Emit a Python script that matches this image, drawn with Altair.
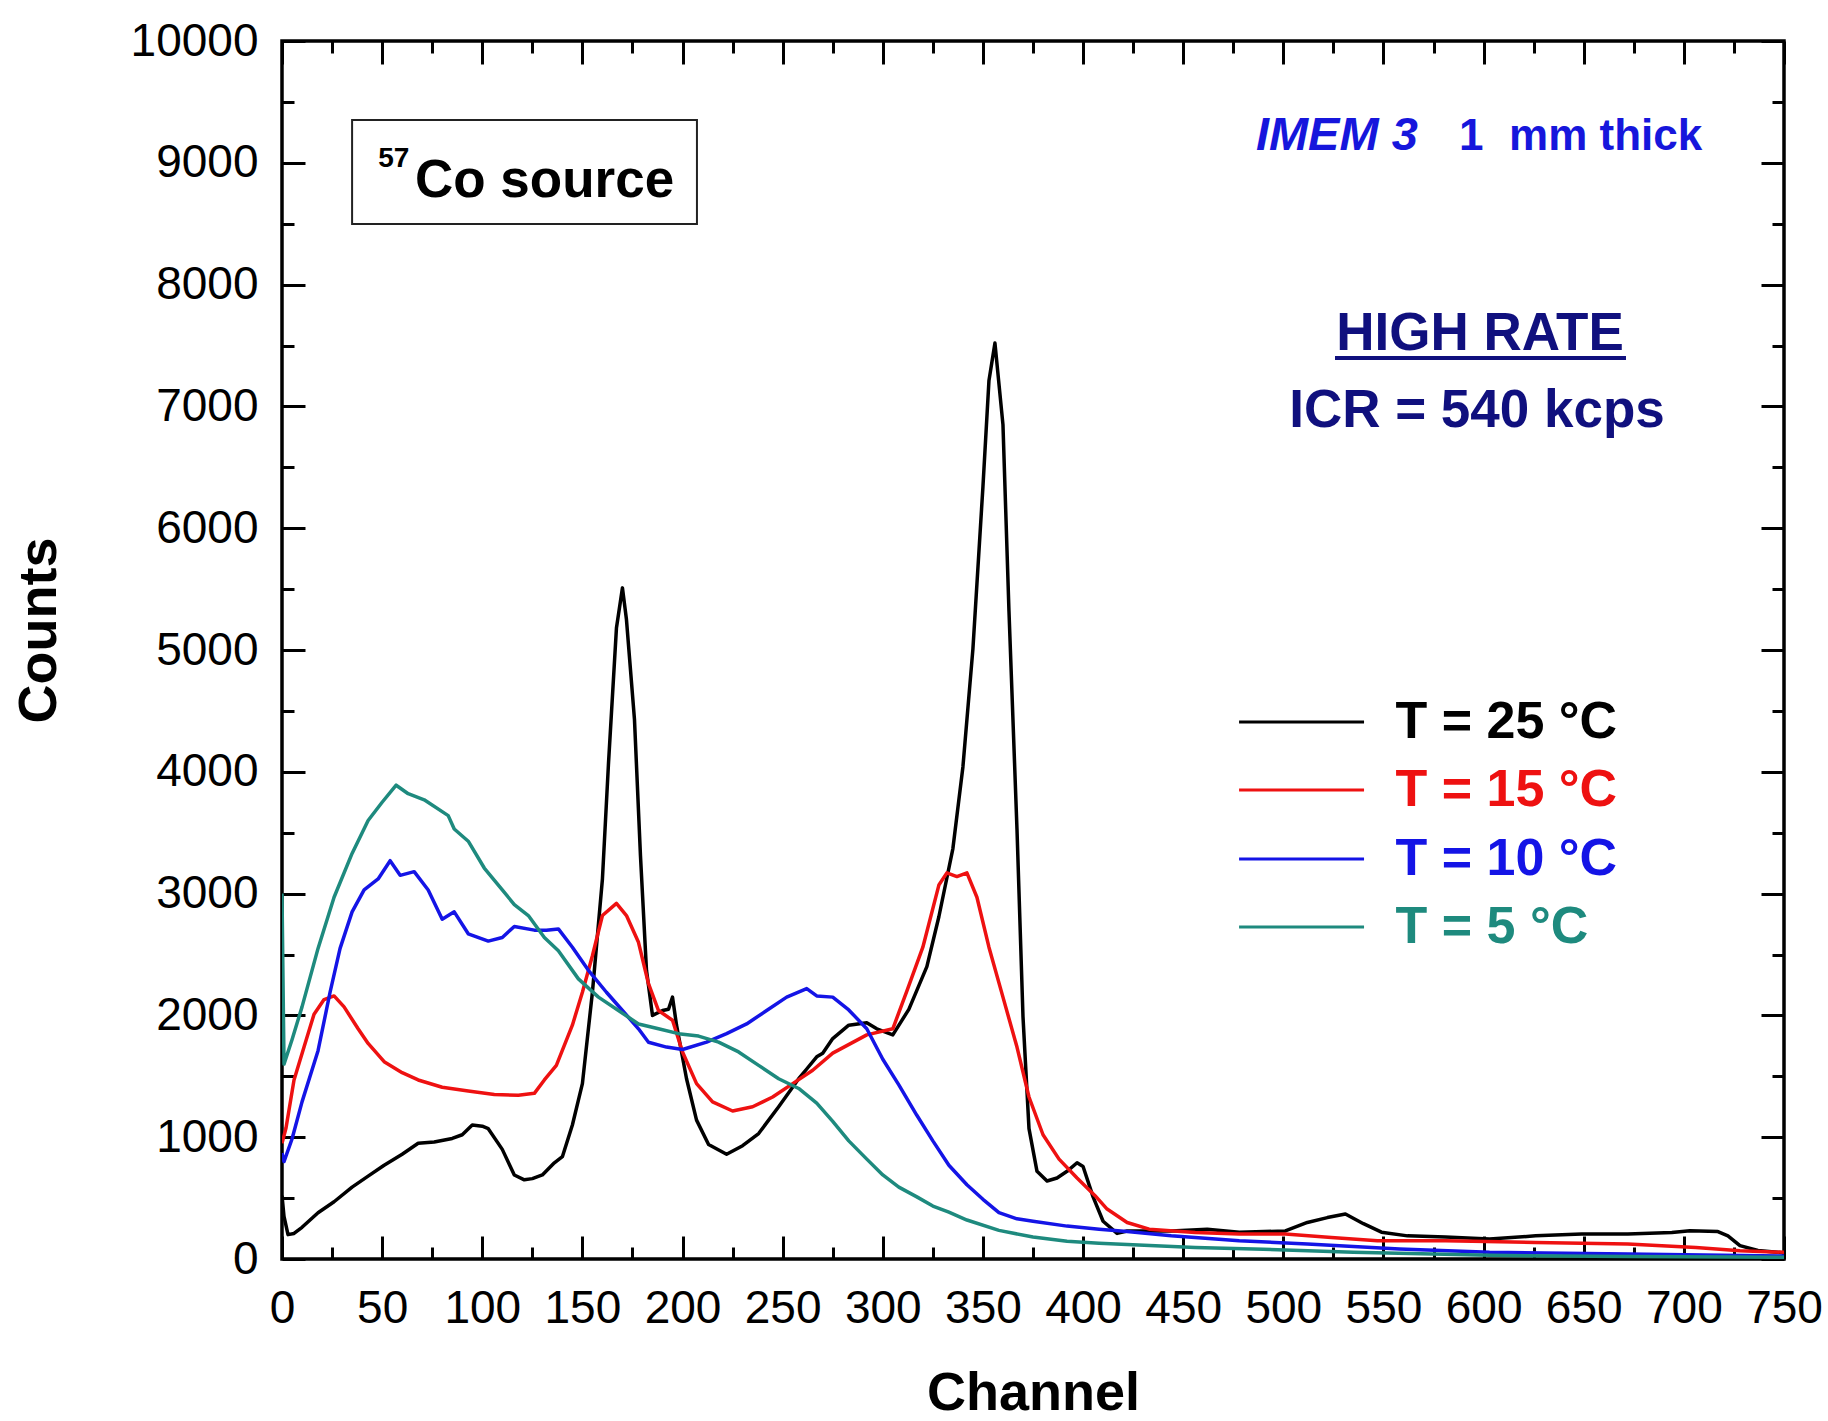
import altair as alt
import pandas as pd

FONT = "Liberation Sans"
W, H = 1502, 1218
XDOM = [0, 750]
YDOM = [0, 10000]

# ---------------- data ----------------
series_names = ["T = 25 °C", "T = 15 °C", "T = 10 °C", "T = 5 °C"]
series_colors = ["#000000", "#ee1111", "#1414e6", "#1e8a7e"]

t25_ch = [0, 1, 3, 6, 10, 18, 26, 35, 43, 51, 60, 68, 76, 85, 90, 95, 100, 103, 110, 116,
          121, 125, 130, 136, 140, 145, 150, 155, 160, 163, 167, 170, 172, 176, 179, 182, 185, 190, 193, 195,
          197, 202, 207, 213, 222, 230, 238, 248, 258, 262, 267, 270, 275, 283, 292, 297, 305, 313, 322, 328,
          335, 340, 345, 350, 353, 356, 360, 363, 367, 370, 373, 377, 382, 387, 392, 397, 400, 405, 410, 417,
          422, 444, 462, 478, 501, 512, 522, 531, 540, 549, 562, 581, 603, 626, 649, 672, 694, 703, 717, 722,
          728, 737, 750]
t25_counts = [520, 350, 200, 210, 260, 380, 470, 590, 680, 770, 860, 950, 960, 990, 1020, 1100, 1090, 1070, 900, 690,
              650, 660, 690, 790, 840, 1100, 1440, 2190, 3120, 4060, 5180, 5510, 5250, 4430, 3310, 2370, 2000, 2040, 2050, 2150,
              1920, 1480, 1140, 940, 860, 930, 1030, 1250, 1480, 1560, 1660, 1690, 1810, 1920, 1940, 1890, 1840, 2050, 2400, 2810,
              3370, 4040, 5010, 6340, 7210, 7520, 6850, 5320, 3530, 1990, 1070, 720, 640, 665, 720, 790, 760, 510, 310, 210,
              230, 230, 245, 220, 230, 300, 340, 370, 290, 220, 190, 180, 165, 190, 205, 205, 218, 232, 225, 190,
              110, 70, 50]

t15_ch = [0, 2, 6, 11, 16, 21, 26, 31, 38, 43, 51, 60, 68, 80, 93, 106, 118, 126, 131, 137,
          145, 150, 155, 160, 167, 172, 178, 183, 188, 195, 200, 207, 215, 225, 235, 245, 255, 265, 275, 292,
          305, 312, 320, 328, 332, 337, 342, 347, 353, 360, 367, 373, 380, 388, 397, 406, 412, 422, 433, 456,
          478, 501, 524, 547, 581, 626, 672, 706, 728, 750]
t15_counts = [950, 1075, 1470, 1740, 2010, 2130, 2160, 2070, 1890, 1770, 1620, 1530, 1470, 1410, 1380, 1350, 1345, 1360, 1470, 1590,
              1920, 2190, 2490, 2820, 2920, 2820, 2600, 2260, 2040, 1960, 1700, 1440, 1290, 1215, 1250, 1330, 1440, 1550, 1690, 1840,
              1890, 2200, 2560, 3070, 3170, 3140, 3170, 2970, 2560, 2150, 1740, 1330, 1020, 820, 665, 520, 410, 300, 245, 218,
              205, 205, 177, 150, 150, 136, 123, 95, 68, 55]

t10_ch = [0, 1, 5, 10, 18, 24, 29, 35, 41, 48, 54, 59, 66, 73, 80, 86, 93, 103, 110, 116,
          126, 132, 138, 145, 153, 162, 170, 178, 183, 192, 200, 212, 222, 232, 242, 252, 262, 267, 275, 283,
          292, 300, 308, 317, 325, 333, 342, 350, 358, 367, 375, 392, 408, 422, 444, 478, 512, 558, 603, 672,
          750]
t10_counts = [870, 800, 985, 1290, 1710, 2190, 2550, 2850, 3030, 3120, 3270, 3150, 3180, 3030, 2790, 2850, 2670, 2610, 2640, 2730,
              2700, 2700, 2710, 2560, 2370, 2190, 2040, 1890, 1780, 1740, 1720, 1780, 1850, 1930, 2040, 2150, 2220, 2160, 2150, 2045,
              1890, 1640, 1430, 1180, 970, 770, 610, 490, 380, 330, 310, 270, 245, 225, 190, 150, 123, 82, 55, 41,
              25]

t5_ch = [0, 1, 5, 10, 18, 26, 35, 43, 50, 57, 63, 71, 83, 86, 93, 101, 110, 116, 123, 131,
         138, 148, 158, 168, 178, 188, 198, 208, 218, 228, 238, 248, 258, 267, 275, 283, 292, 300, 308, 317,
         325, 333, 342, 358, 375, 392, 408, 422, 456, 490, 535, 603, 672, 750]
t5_counts = [3000, 1600, 1800, 2070, 2550, 2970, 3330, 3600, 3750, 3890, 3820, 3770, 3640, 3530, 3430, 3210, 3030, 2910, 2820, 2640,
             2530, 2300, 2150, 2040, 1930, 1890, 1850, 1830, 1780, 1700, 1590, 1480, 1400, 1280, 1130, 970, 820, 690, 590, 510,
             435, 385, 320, 235, 180, 145, 130, 120, 95, 80, 55, 30, 20, 14]

x_major = list(range(0, 751, 50))
x_minor = list(range(25, 751, 50))
y_major = list(range(0, 10001, 1000))
y_minor = list(range(500, 10000, 1000))

# legend entry levels (in Counts units)
legend_y = [4409, 3851, 3284, 2726]

series_data = [(t25_ch, t25_counts), (t15_ch, t15_counts), (t10_ch, t10_counts), (t5_ch, t5_counts)]

# ---------------- helpers ----------------
def xs():
    return alt.Scale(domain=XDOM, nice=False, zero=False)

def ys():
    return alt.Scale(domain=YDOM, nice=False, zero=False)

def px(field="ch", axis=None):
    return alt.X(f"{field}:Q", scale=xs(), axis=axis)

def py(field="counts", axis=None):
    return alt.Y(f"{field}:Q", scale=ys(), axis=axis)

color_scale = alt.Scale(domain=series_names, range=series_colors)

def tick_axis(orient, values, size):
    off = -H if orient in ("top", "bottom") else -W
    return alt.Axis(orient=orient, offset=off, values=values, tickSize=size, tickWidth=3,
                    tickColor="black", ticks=True, labels=False, domain=False, grid=False, title=None)

anchor = pd.DataFrame({"ch": [0], "counts": [0]})

layers = []

# main axes (labels + titles)
main_x_axis = alt.Axis(orient="bottom", values=x_major, format="d", ticks=False, domain=False, grid=False,
                       labelFont=FONT, labelFontSize=46, labelColor="black", labelPadding=27,
                       labelFlush=False, labelOverlap=False,
                       title="Channel", titleFont=FONT, titleFontSize=54, titleFontWeight="bold",
                       titleColor="black", titleY=150, titleBaseline="alphabetic")
main_y_axis = alt.Axis(orient="left", values=y_major, format="d", ticks=False, domain=False, grid=False,
                       labelFont=FONT, labelFontSize=46, labelColor="black", labelPadding=24,
                       labelFlush=False, labelOverlap=False,
                       title="Counts", titleFont=FONT, titleFontSize=54, titleFontWeight="bold",
                       titleColor="black", titleX=-227, titleY=589, titleBaseline="alphabetic")
layers.append(alt.Chart(anchor).mark_point(opacity=0).encode(x=px(axis=main_x_axis), y=py(axis=main_y_axis)))

# inward ticks on all four sides (major + minor)
layers.append(alt.Chart(anchor).mark_point(opacity=0).encode(
    x=px(axis=tick_axis("top", x_major, 23)), y=py(axis=tick_axis("right", y_major, 23))))
layers.append(alt.Chart(anchor).mark_point(opacity=0).encode(
    x=px(axis=tick_axis("top", x_minor, 12)), y=py(axis=tick_axis("right", y_minor, 12))))
layers.append(alt.Chart(anchor).mark_point(opacity=0).encode(
    x=px(axis=tick_axis("bottom", x_major, 23)), y=py(axis=tick_axis("left", y_major, 23))))
layers.append(alt.Chart(anchor).mark_point(opacity=0).encode(
    x=px(axis=tick_axis("bottom", x_minor, 12)), y=py(axis=tick_axis("left", y_minor, 12))))

# spectra
for name, (chs, cts) in zip(series_names, series_data):
    df = pd.DataFrame({"ch": chs, "counts": cts, "series": name})
    layers.append(alt.Chart(df).mark_line(strokeWidth=3.5, clip=True, strokeJoin="round").encode(
        x=px(), y=py(), color=alt.Color("series:N", scale=color_scale, legend=None)))

# legend (manual)
leg_df = pd.DataFrame({"series": series_names, "counts": legend_y,
                       "ch": [477.9] * 4, "ch2": [540.3] * 4, "tx": [556.0] * 4})
layers.append(alt.Chart(leg_df).mark_rule(strokeWidth=3).encode(
    x=px(), x2=alt.X2("ch2"), y=py(), color=alt.Color("series:N", scale=color_scale, legend=None)))
layers.append(alt.Chart(leg_df).mark_text(font=FONT, fontSize=52, fontWeight="bold", align="left",
                                          baseline="middle").encode(
    x=px("tx"), y=py(), text="series:N", color=alt.Color("series:N", scale=color_scale, legend=None)))

# source box
box_df = pd.DataFrame({"ch": [35.0], "ch2": [207.2], "counts": [8498], "counts2": [9351]})
layers.append(alt.Chart(box_df).mark_rect(fillOpacity=0, stroke="#222222", strokeWidth=2).encode(
    x=px(), x2=alt.X2("ch2"), y=py(), y2=alt.Y2("counts2")))
sup_df = pd.DataFrame({"ch": [48.0], "counts": [8966], "label": ["57"]})
layers.append(alt.Chart(sup_df).mark_text(font=FONT, fontSize=28, fontWeight="bold", align="left",
                                          baseline="alphabetic", color="black").encode(
    x=px(), y=py(), text="label:N"))
co_df = pd.DataFrame({"ch": [66.4], "counts": [8719], "label": ["Co source"]})
layers.append(alt.Chart(co_df).mark_text(font=FONT, fontSize=53, fontWeight="bold", align="left",
                                         baseline="alphabetic", color="black").encode(
    x=px(), y=py(), text="label:N"))

# detector labels
imem_df = pd.DataFrame({"ch": [486.3], "counts": [9105], "label": ["IMEM 3"]})
layers.append(alt.Chart(imem_df).mark_text(font=FONT, fontSize=47, fontWeight="bold", fontStyle="italic",
                                           align="left", baseline="alphabetic", color="#1616dc").encode(
    x=px(), y=py(), text="label:N"))
thick_df = pd.DataFrame({"ch": [587.7, 612.7], "counts": [9105, 9105], "label": ["1", "mm thick"]})
layers.append(alt.Chart(thick_df).mark_text(font=FONT, fontSize=44, fontWeight="bold",
                                            align="left", baseline="alphabetic", color="#1616dc").encode(
    x=px(), y=py(), text="label:N"))

NAVY = "#10107e"
rate_df = pd.DataFrame({"ch": [598.2, 596.7], "counts": [7463, 6831], "label": ["HIGH RATE", "ICR = 540 kcps"]})
layers.append(alt.Chart(rate_df).mark_text(font=FONT, fontSize=53, fontWeight="bold",
                                           align="center", baseline="alphabetic", color=NAVY).encode(
    x=px(), y=py(), text="label:N"))
ul_df = pd.DataFrame({"ch": [525.8], "ch2": [671.1], "counts": [7397]})
layers.append(alt.Chart(ul_df).mark_rule(strokeWidth=4, color=NAVY).encode(
    x=px(), x2=alt.X2("ch2"), y=py()))

chart = alt.layer(*layers).resolve_scale(x="independent", y="independent").properties(
    width=W, height=H,
    autosize=alt.AutoSizeParams(type="none"),
    padding={"left": 282, "top": 41, "right": 44, "bottom": 162},
    background="white",
).configure(font=FONT).configure_view(stroke="black", strokeWidth=3.5)

chart.save("out.html", embed_options={"renderer": "svg", "actions": False})
